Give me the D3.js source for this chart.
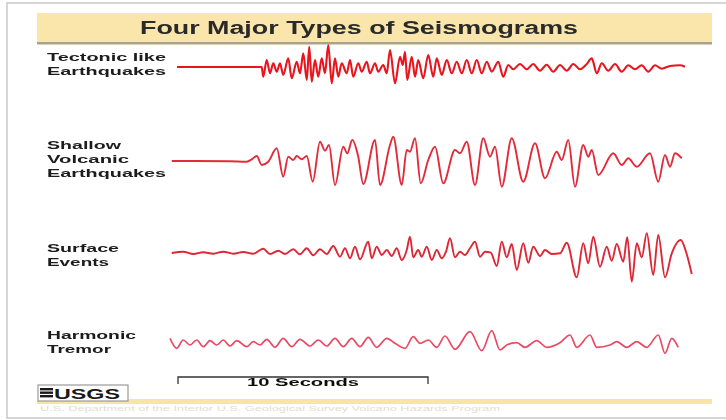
<!DOCTYPE html>
<html><head><meta charset="utf-8">
<script src="https://cdn.jsdelivr.net/npm/d3@7"></script>
<style>html,body{margin:0;padding:0;background:#fff;}svg{display:block;}</style>
</head><body>
<script>
// ---- data: [time in seconds, amplitude] extrema ----
const titleText = "Four Major Types of Seismograms";
const traceNames = [["Tectonic like","Earthquakes"],["Shallow","Volcanic","Earthquakes"],["Surface","Events"],["Harmonic","Tremor"]];
const scaleBarLabel = "10 Seconds";
const scaleBarStart = 0.32, scaleBarSeconds = 10;

const tectonic = [[0.28,0],[3.67,0],[3.73,-9.7],[3.87,7],[4.0,-6.3],[4.13,3.7],[4.27,-4.7],[4.4,3.7],[4.53,-8],[4.73,8.7],[4.87,-11.3],[5.07,5.3],[5.2,-6.3],[5.33,13.7],[5.47,-13],[5.57,20.3],[5.67,-14.7],[5.8,7],[5.93,-9.7],[6.07,8.7],[6.2,-6.3],[6.33,22],[6.47,-16.3],[6.6,8.7],[6.73,-9.7],[6.87,3.7],[7.07,-6.3],[7.2,7],[7.33,-9.7],[7.53,3.7],[7.67,-4.7],[7.87,5.3],[8.0,-6.3],[8.2,3.7],[8.33,-4.7],[8.53,2],[8.67,-6.3],[8.8,17],[9.0,-16.3],[9.2,10.3],[9.31,2],[9.4,15.3],[9.49,-13],[9.67,10.3],[9.8,-9.7],[9.93,7],[10.13,-11.3],[10.33,12],[10.53,-9.7],[10.67,8.7],[10.87,-8],[11.07,7],[11.27,-6.3],[11.47,5.3],[11.67,-6.3],[11.87,7],[12.07,-6.3],[12.27,7],[12.47,-6.3],[12.67,5.3],[12.87,-4.7],[13.13,5.3],[13.33,-9.7],[13.53,2],[13.73,-2.3],[14.0,3],[14.27,-2.3],[14.53,3],[14.8,-3.7],[15.07,2.3],[15.33,-4.7],[15.6,2],[15.87,-3.7],[16.13,3],[16.4,-2.3],[16.67,3],[16.87,8.7],[17.07,-6.3],[17.27,3.7],[17.53,-3.7],[17.8,3],[18.07,-4.7],[18.33,1.7],[18.6,-2.3],[18.87,1.7],[19.13,-4.7],[19.4,1.7],[19.67,-1.7],[20.0,1],[20.4,1.7],[20.6,0.3]];

const volcanic = [[0.07,0],[2.4,-0.3],[3.07,-0.7],[3.27,1.7],[3.47,5],[3.67,-4],[3.93,-0.7],[4.27,12.7],[4.53,-15.7],[4.73,4.3],[4.93,1],[5.07,5],[5.27,1.7],[5.47,5],[5.71,-20.7],[6.0,19.3],[6.2,10.3],[6.36,16],[6.6,-24],[6.93,14.3],[7.09,7.7],[7.29,21],[7.53,4.3],[7.73,-23],[8.2,21],[8.4,-24],[8.8,16],[8.93,24.3],[9.27,-24],[9.47,11],[9.6,9.3],[9.8,22.7],[10.03,-22.3],[10.33,1],[10.6,14.3],[10.93,-22.3],[11.4,11],[11.6,7.7],[11.87,19.3],[12.2,-24],[12.53,22.7],[12.8,4.3],[13.0,14.3],[13.27,-25.7],[13.67,22.7],[14.13,-20.7],[14.6,17.7],[15.0,-17.3],[15.47,9.3],[15.67,1],[15.93,21],[16.2,-25.7],[16.53,16],[16.73,4.3],[16.87,11],[17.13,-14],[17.73,7.7],[18.07,-4],[18.33,2.7],[18.67,-5.7],[19.2,7.7],[19.53,-20.7],[19.8,6],[20.0,-5.7],[20.2,7.7],[20.47,2.7]];

const surface = [[0.07,0],[0.53,1.3],[0.93,-1],[1.33,0.7],[1.73,-0.7],[2.13,1.3],[2.53,-0.7],[2.93,1],[3.33,-0.7],[3.73,4.3],[4.0,-1],[4.33,2.3],[4.6,-1],[4.93,3.7],[5.2,-1.3],[5.47,4.7],[5.73,-2.3],[6.0,3.7],[6.27,-1],[6.53,7],[6.8,-3.7],[7.0,4.7],[7.2,-5.3],[7.4,6.3],[7.6,-6.3],[7.93,11.3],[8.07,-5.3],[8.27,6.3],[8.47,-2],[8.67,3],[8.87,-3],[9.07,4.7],[9.27,-7],[9.47,3],[9.6,16.3],[9.73,-4.3],[9.93,3],[10.07,-3.7],[10.27,6.3],[10.47,-7],[10.67,3],[10.87,-5.3],[11.04,1.3],[11.2,14.7],[11.4,-4.3],[11.6,1.3],[11.8,-2],[12.0,4.7],[12.2,11.3],[12.4,-3.7],[12.6,1.3],[12.83,0.3],[13.07,-13],[13.27,11.3],[13.47,-4.3],[13.67,9],[13.87,-17],[14.13,9.7],[14.33,-9.7],[14.53,6.3],[14.8,-3],[15.0,3],[15.27,-1],[15.6,-0.3],[15.87,10.3],[16.27,-24.3],[16.53,9.7],[16.73,-10.3],[16.93,16.3],[17.2,-13.7],[17.47,6.3],[17.67,-7.7],[17.87,9],[18.13,-8.7],[18.29,15.7],[18.47,-28.7],[18.67,9.7],[18.87,-4.3],[19.07,19.7],[19.33,-22],[19.53,18],[19.8,-24.3],[20.07,-0.3],[20.43,13],[20.64,1.3],[20.87,-21]];

const tremor = [[0,4.7],[0.27,-5.3],[0.53,3],[0.8,-2],[1.07,3],[1.33,-3.7],[1.6,2.3],[1.87,-2],[2.13,3],[2.4,-3],[2.67,2.3],[3.07,-3.7],[3.33,1.3],[3.6,-2],[3.87,3.7],[4.2,-4.3],[4.53,4.7],[4.87,-3.7],[5.2,3.7],[5.6,-3],[5.93,3],[6.27,-3],[6.6,4.7],[6.93,-3.7],[7.27,4.7],[7.6,-3.7],[7.93,5.7],[8.27,-4.3],[8.67,4.7],[9.0,-0.3],[9.4,-5.3],[9.73,6.3],[10.0,-0.3],[10.33,3],[10.67,-4.3],[11.0,7],[11.4,-6.3],[12.0,11.3],[12.47,-7.7],[12.87,12.3],[13.2,-7],[13.47,-2],[13.87,0.3],[14.2,-4.3],[14.67,2.3],[15.07,-4.3],[15.6,0.3],[16.0,8],[16.27,-4.3],[16.8,8],[17.07,-4.3],[17.6,-2],[17.87,1.3],[18.27,-4.3],[18.67,1.3],[19.07,-4.3],[19.53,8],[19.8,-10.3],[20.07,4.7],[20.33,-4.3]];

// ---- drawing ----
const W = 726, H = 420;
const svg = d3.select("body").append("svg").attr("width", W).attr("height", H);
const FONT = "'Liberation Sans', Arial, sans-serif";

const defs = svg.append("defs");
defs.append("filter").attr("id","soft").append("feGaussianBlur").attr("stdDeviation",0.5);
defs.append("filter").attr("id","softText").append("feGaussianBlur").attr("stdDeviation",0.3);

// frame
svg.append("rect").attr("x",7).attr("y",3).attr("width",740).attr("height",415)
  .attr("fill","#fff").attr("stroke","#c9c9c9").attr("stroke-width",1.5);

// title band
svg.append("rect").attr("x",37).attr("y",13).attr("width",675).attr("height",30).attr("fill","#fae6aa");
svg.append("rect").attr("x",37).attr("y",42).attr("width",675).attr("height",2.5).attr("fill","#a9a38a");
svg.append("text").attr("x",140).attr("y",34).attr("font-family",FONT).attr("font-weight","bold")
  .attr("font-size",18).attr("fill","#2a2a2a").attr("textLength",438).attr("lengthAdjust","spacingAndGlyphs")
  .attr("filter","url(#softText)").text(titleText);

const x = d3.scaleLinear().domain([0, 21]).range([170, 695]);

const traces = [
  {data: tectonic, base: 67, color: "#e8141e", width: 2.1, curve: d3.curveMonotoneX},
  {data: volcanic, base: 161, color: "#e22c3a", width: 1.9, curve: d3.curveMonotoneX},
  {data: surface, base: 253, color: "#de2636", width: 1.9, curve: d3.curveMonotoneX},
  {data: tremor, base: 343, color: "#e84a64", width: 1.7, curve: d3.curveMonotoneX}
];
const labelLines = [
  [{y:61,w:119},{y:75,w:119}],
  [{y:149,w:74},{y:163,w:82},{y:177,w:119}],
  [{y:252,w:72},{y:266,w:62}],
  [{y:339,w:89},{y:353,w:64}]
];

traces.forEach((tr, i) => {
  const y = d3.scaleLinear().domain([-30, 30]).range([tr.base + 30, tr.base - 30]);
  const line = d3.line().x(d => x(d[0])).y(d => y(d[1])).curve(tr.curve);
  svg.append("path").datum(tr.data).attr("d", line).attr("fill","none")
    .attr("stroke", tr.color).attr("stroke-width", tr.width).attr("stroke-linejoin","round")
    .attr("filter","url(#soft)");
  traceNames[i].forEach((name, j) => {
    const L = labelLines[i][j];
    svg.append("text").attr("x",47).attr("y",L.y).attr("font-family",FONT).attr("font-weight","bold")
      .attr("font-size",11).attr("fill","#1a1a1a").attr("textLength",L.w).attr("lengthAdjust","spacingAndGlyphs")
      .attr("filter","url(#softText)").text(name);
  });
});

// scale bar
const sb = svg.append("g").attr("stroke","#333").attr("stroke-width",1.3).attr("fill","none");
const x0 = x(scaleBarStart), x1 = x(scaleBarStart + scaleBarSeconds);
sb.append("path").attr("d", `M${x0},384V377H${x1}V384`);
svg.append("text").attr("x",(x0+x1)/2).attr("y",386).attr("text-anchor","middle").attr("font-family",FONT)
  .attr("font-weight","bold").attr("font-size",11).attr("fill","#111").attr("textLength",112)
  .attr("lengthAdjust","spacingAndGlyphs").attr("filter","url(#softText)").text(scaleBarLabel);

// bottom band
svg.append("rect").attr("x",37).attr("y",399).attr("width",675).attr("height",5).attr("fill","#f8e4a4");
svg.append("text").attr("x",40).attr("y",411).attr("font-family",FONT).attr("font-size",6.5)
  .attr("fill","#e2dfcc").attr("textLength",460).attr("lengthAdjust","spacingAndGlyphs")
  .text("U.S. Department of the Interior     U.S. Geological Survey     Volcano Hazards Program");

// USGS logo
svg.append("rect").attr("x",38).attr("y",385).attr("width",90).attr("height",16)
  .attr("fill","#fff").attr("stroke","#9a9a9a").attr("stroke-width",1.2);
const bars = svg.append("g").attr("fill","#1a1a1a");
[388,391.5,395].forEach(yy => bars.append("rect").attr("x",40).attr("y",yy).attr("width",13).attr("height",2.4));
svg.append("text").attr("x",54).attr("y",399).attr("font-family",FONT).attr("font-weight","bold")
  .attr("font-size",15).attr("fill","#1a1a1a").attr("textLength",66).attr("lengthAdjust","spacingAndGlyphs")
  .text("USGS");
</script>
</body></html>
